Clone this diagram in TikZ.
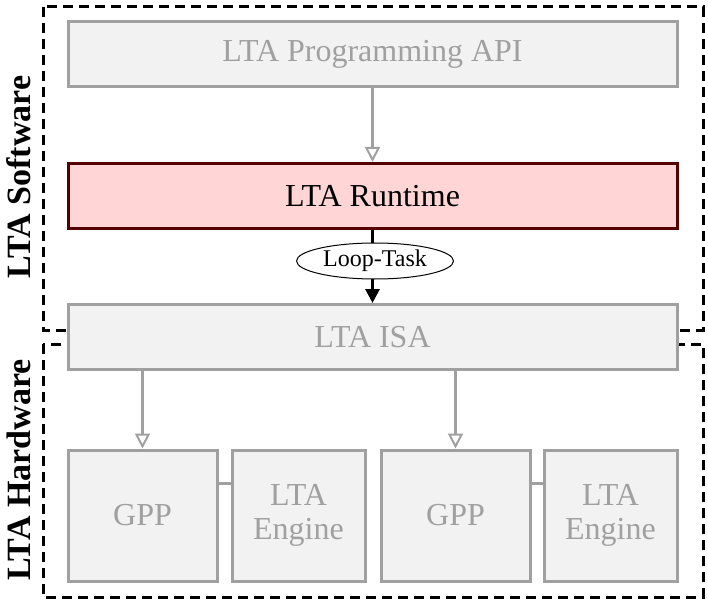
\documentclass[tikz,border=0pt]{standalone}
\usepackage{fontspec}
\setmainfont{Liberation Serif}
\usetikzlibrary{arrows.meta,shapes.geometric}
\definecolor{boxgray}{HTML}{F2F2F2}
\definecolor{linegray}{HTML}{A0A0A0}
\definecolor{rtpink}{HTML}{FFD5D5}
\definecolor{rtred}{HTML}{550000}
\begin{document}
\begin{tikzpicture}[x=1pt,y=1pt,
				layer/.style={rectangle,draw=linegray,fill=boxgray,line width=3pt,text=linegray,font=\fontsize{32}{34}\selectfont,minimum width=609pt,minimum height=65pt,inner sep=0pt},
				unit/.style={layer,minimum height=131pt,align=center},
				zone/.style={draw,dashed,line width=3pt,dash pattern=on 10pt off 6pt},
				zonelabel/.style={rotate=90,font=\fontsize{34}{36}\selectfont\bfseries},
				gline/.style={draw=linegray,line width=3pt},
				garrow/.style={gline,-{Triangle[open,length=15pt,width=15pt,line width=2pt]}}
]
\useasboundingbox (0,0) rectangle (708,603);
\draw[zone] (43,596) rectangle (703,273);
\draw[zone] (43,259) rectangle (703,6);
\node[zonelabel] (sw) at (19,426) {LTA Software};
\node[zonelabel] (hw) at (19,133) {LTA Hardware};
\node[layer] (api) at (372.5,548.5) {LTA Programming API};
\node[layer,fill=rtpink,draw=rtred,text=black] (rt) at (372.5,407) {LTA Runtime};
\node[layer] (isa) at (372.5,266) {LTA ISA};
\node[unit,minimum width=149pt] (gpp1) at (142.5,87.5) {GPP};
\node[unit,minimum width=133pt] (eng1) at (298.5,87.5) {LTA\\Engine};
\node[unit,minimum width=149pt] (gpp2) at (455.5,87.5) {GPP};
\node[unit,minimum width=133pt] (eng2) at (610.5,87.5) {LTA\\Engine};
% connectors
\draw[garrow] (api) -- (rt);
\draw[line width=3pt,-{Triangle[length=14pt,width=14pt]}] (rt) -- (isa);
\node[ellipse,draw,fill=white,line width=1pt,font=\fontsize{24}{26}\selectfont,minimum width=157pt,minimum height=36pt,inner sep=0pt] (lt) at (375,342) {Loop-Task};
\draw[garrow] (isa.south -| gpp1) -- (gpp1);
\draw[garrow] (isa.south -| gpp2) -- (gpp2);
\draw[gline] ([yshift=32pt]gpp1.east) -- ([yshift=32pt]eng1.west);
\draw[gline] ([yshift=32pt]gpp2.east) -- ([yshift=32pt]eng2.west);
\end{tikzpicture}
\end{document}
